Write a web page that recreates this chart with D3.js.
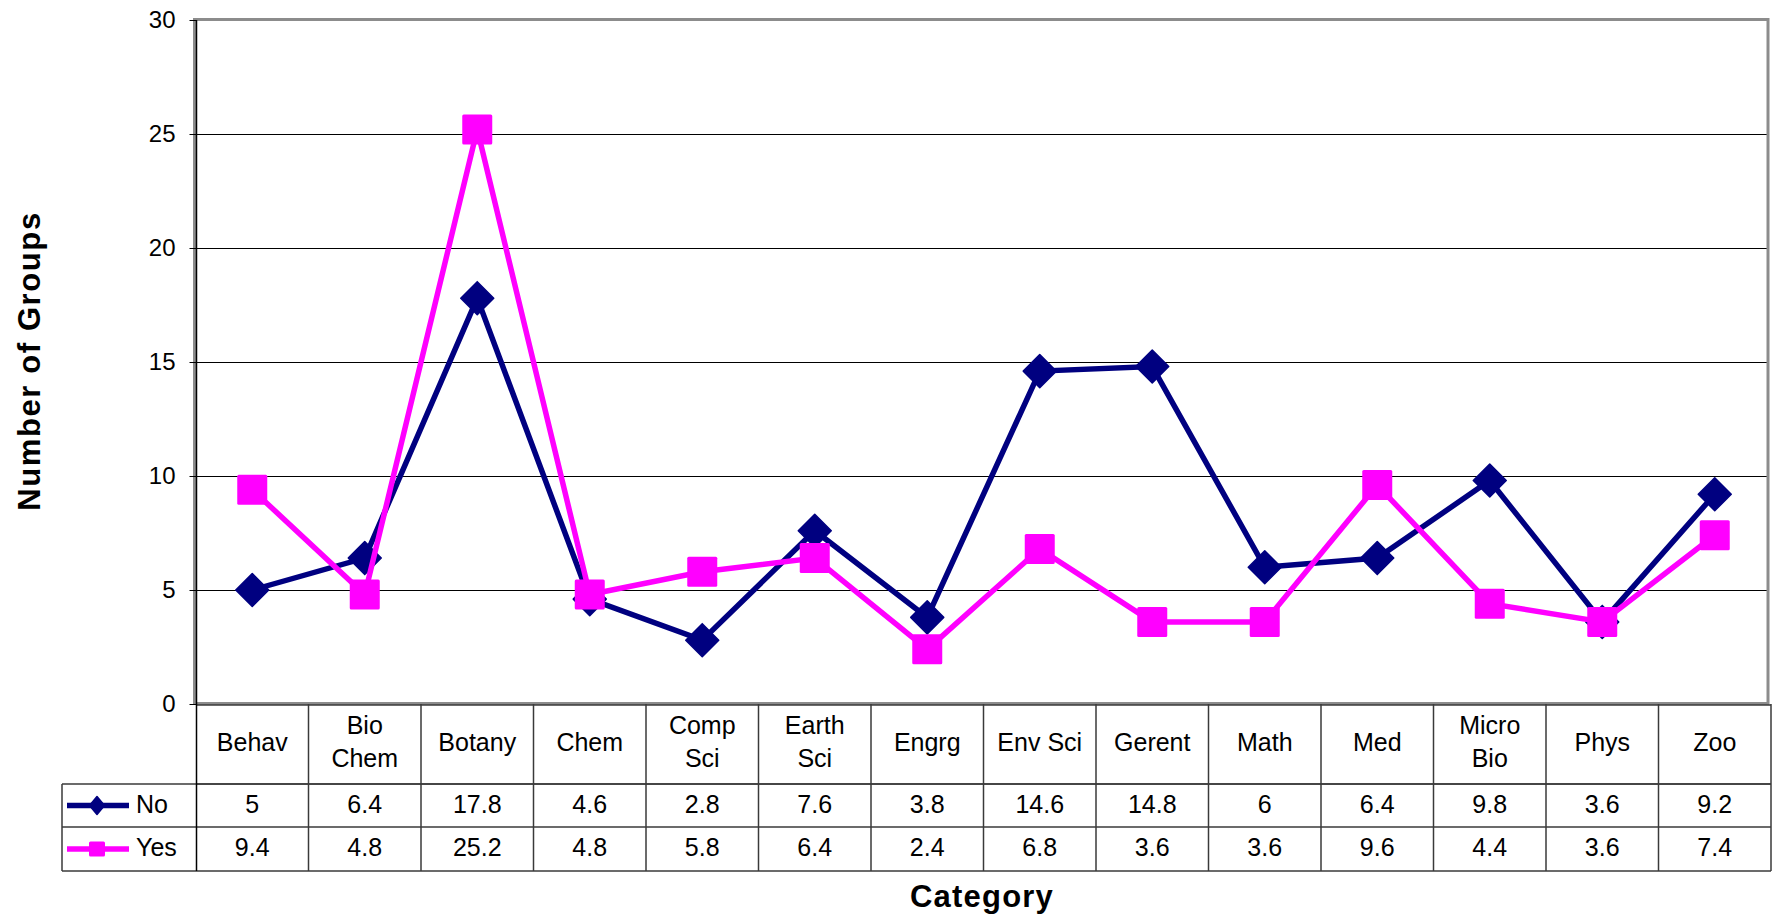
<!DOCTYPE html>
<html>
<head>
<meta charset="utf-8">
<script src="https://cdn.jsdelivr.net/npm/d3@7"></script>
<style>
  html, body { margin: 0; padding: 0; background: #fff; }
  svg { display: block; font-family: "Liberation Sans", Arial, sans-serif; }
</style>
</head>
<body>
<svg id="chart" width="1779" height="919"></svg>
<script>
// Category labels (each entry is the lines of its header cell)
const categories = [
  ["Behav"], ["Bio", "Chem"], ["Botany"], ["Chem"], ["Comp", "Sci"], ["Earth", "Sci"],
  ["Engrg"], ["Env Sci"], ["Gerent"], ["Math"], ["Med"], ["Micro", "Bio"], ["Phys"], ["Zoo"]
];
const noValues  = [5, 6.4, 17.8, 4.6, 2.8, 7.6, 3.8, 14.6, 14.8, 6, 6.4, 9.8, 3.6, 9.2];
const yesValues = [9.4, 4.8, 25.2, 4.8, 5.8, 6.4, 2.4, 6.8, 3.6, 3.6, 9.6, 4.4, 3.6, 7.4];
const seriesNames = ["No", "Yes"];
const yTicks = [0, 5, 10, 15, 20, 25, 30];

const NAVY = "#000080", MAGENTA = "#FF00FF";

const svg = d3.select("#chart");

// Layout
const plotLeft = 196, plotRight = 1768, plotTop = 20, plotBottom = 704;
const tableRight = 1771, legendLeft = 62;
const headerBottom = 784, noBottom = 827, yesBottom = 871;

const keys = categories.map(c => c.join(" "));
const x = d3.scaleBand().domain(keys).range([plotLeft, tableRight]);
const y = d3.scaleLinear().domain([0, 30]).range([plotBottom, plotTop]);
const cx = i => x(keys[i]) + x.bandwidth() / 2;

// Horizontal gridlines
svg.append("g").selectAll("line")
  .data(yTicks.filter(t => t > 0 && t < 30))
  .join("line")
  .attr("x1", plotLeft).attr("x2", plotRight)
  .attr("y1", d => Math.round(y(d)) + 0.5).attr("y2", d => Math.round(y(d)) + 0.5)
  .attr("stroke", "#000").attr("stroke-width", 1);

// Plot area frame
svg.append("rect")
  .attr("x", plotLeft - 1.5).attr("y", plotTop - 0.5)
  .attr("width", plotRight - plotLeft + 1.5).attr("height", plotBottom - plotTop)
  .attr("fill", "none").attr("stroke", "#8c8c8c").attr("stroke-width", 3);

// Value axis
const yAxis = d3.axisLeft(y).tickValues(yTicks).tickSize(7).tickPadding(14);
const ga = svg.append("g").attr("transform", `translate(${plotLeft + 0.5},0)`).call(yAxis);
ga.select(".domain").remove();
ga.selectAll(".tick line").attr("stroke", "#000");
ga.selectAll(".tick text")
  .attr("font-size", 24).attr("fill", "#000")
  .attr("font-family", "'Liberation Sans', Arial, sans-serif")
  .attr("dy", "0.3em");

// Data table grid
const tg = svg.append("g").attr("stroke", "#3a3a3a").attr("stroke-width", 1.5).attr("fill", "none");
// horizontal rules
[[plotLeft, tableRight, headerBottom], [legendLeft, tableRight, headerBottom],
 [legendLeft, tableRight, noBottom], [legendLeft, tableRight, yesBottom]]
  .forEach(([a, b, yy]) => tg.append("line").attr("x1", a).attr("x2", b).attr("y1", yy).attr("y2", yy));
tg.append("line").attr("x1", plotLeft).attr("x2", tableRight).attr("y1", plotBottom + 1).attr("y2", plotBottom + 1);
// column separators
keys.forEach((k, i) => {
  if (i === 0) return;
  tg.append("line").attr("x1", x(k)).attr("x2", x(k)).attr("y1", plotBottom).attr("y2", yesBottom);
});
tg.append("line").attr("x1", tableRight).attr("x2", tableRight).attr("y1", plotBottom).attr("y2", yesBottom);
tg.append("line").attr("x1", legendLeft).attr("x2", legendLeft).attr("y1", headerBottom).attr("y2", yesBottom);
// value axis line continuing through the table
svg.append("line").attr("x1", plotLeft + 0.5).attr("x2", plotLeft + 0.5)
  .attr("y1", plotTop).attr("y2", yesBottom).attr("stroke", "#000").attr("stroke-width", 1.5);

// Header cells
const hg = svg.append("g").attr("font-size", 25).attr("text-anchor", "middle").attr("fill", "#000");
categories.forEach((lines, i) => {
  const baselines = lines.length === 1 ? [751] : [734, 767];
  lines.forEach((t, j) => hg.append("text").attr("x", cx(i)).attr("y", baselines[j]).text(t));
});

// Value cells
const rowBase = [813, 856];
[noValues, yesValues].forEach((vals, r) => {
  hg.selectAll(null).data(vals).join("text")
    .attr("x", (d, i) => cx(i)).attr("y", rowBase[r]).text(d => d);
});

// Marker shapes
function diamond(g, px, py, w, h, color) {
  g.append("path")
    .attr("d", `M${px},${py - h / 2}L${px + w / 2},${py}L${px},${py + h / 2}L${px - w / 2},${py}Z`)
    .attr("fill", color).attr("stroke", color).attr("stroke-width", 1.5).attr("stroke-linejoin", "round");
}
function square(g, px, py, w, h, color) {
  g.append("rect").attr("x", px - w / 2).attr("y", py - h / 2)
    .attr("width", w).attr("height", h).attr("rx", 1.5)
    .attr("fill", color);
}

// Series lines and markers
const line = d3.line().x((d, i) => cx(i)).y(d => y(d));
const series = [
  { vals: noValues, color: NAVY, marker: (g, px, py) => diamond(g, px, py, 33, 33, NAVY) },
  { vals: yesValues, color: MAGENTA, marker: (g, px, py) => square(g, px, py, 30, 30, MAGENTA) }
];
series.forEach(s => {
  const g = svg.append("g");
  g.append("path").datum(s.vals).attr("d", line)
    .attr("fill", "none").attr("stroke", s.color).attr("stroke-width", 5.5).attr("stroke-linejoin", "miter");
  s.vals.forEach((v, i) => s.marker(g, cx(i), y(v)));
});

// Legend keys in the table
const lg = svg.append("g");
const legendRows = [(headerBottom + noBottom) / 2, (noBottom + yesBottom) / 2];
series.forEach((s, r) => {
  const ly = legendRows[r];
  lg.append("line").attr("x1", 67).attr("x2", 129).attr("y1", ly).attr("y2", ly)
    .attr("stroke", s.color).attr("stroke-width", 5.5);
  if (r === 0) diamond(lg, 97, ly, 15, 18, s.color);
  else square(lg, 97, ly, 16, 15, s.color);
  lg.append("text").attr("x", 136).attr("y", rowBase[r]).attr("font-size", 25).attr("fill", "#000")
    .text(seriesNames[r]);
});

// Axis titles
svg.append("text")
  .attr("x", 982).attr("y", 907).attr("text-anchor", "middle")
  .attr("font-size", 31).attr("font-weight", "bold").attr("letter-spacing", 1.2)
  .text("Category");
svg.append("text")
  .attr("transform", "translate(40,361) rotate(-90)").attr("text-anchor", "middle")
  .attr("font-size", 31).attr("font-weight", "bold").attr("letter-spacing", 1.6)
  .text("Number of Groups");
</script>
</body>
</html>
